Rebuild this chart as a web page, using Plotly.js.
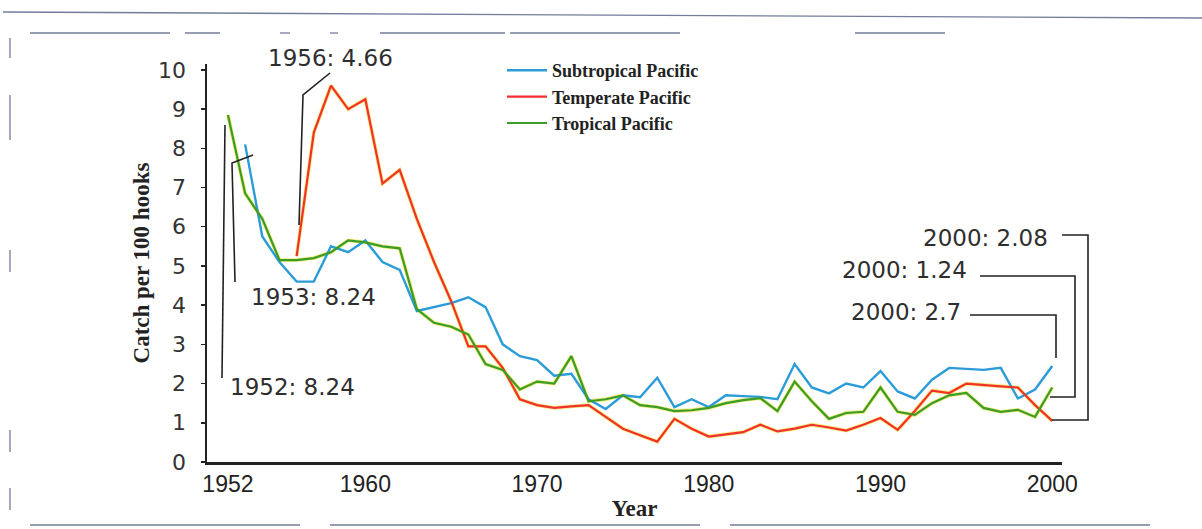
<!DOCTYPE html>
<html>
<head>
<meta charset="utf-8">
<script src="https://cdn.plot.ly/plotly-3.0.1.min.js"></script>
<style>html,body{margin:0;padding:0;background:#fff;}#chart{width:1202px;height:529px;}</style>
</head>
<body>
<div id="chart"></div>
<script>
// ---- data ----
var years = [1952,1953,1954,1955,1956,1957,1958,1959,1960,1961,1962,1963,1964,1965,1966,1967,1968,1969,1970,1971,1972,1973,1974,1975,1976,1977,1978,1979,1980,1981,1982,1983,1984,1985,1986,1987,1988,1989,1990,1991,1992,1993,1994,1995,1996,1997,1998,1999,2000];

var subtropical = [null,8.1,5.75,5.1,4.6,4.6,5.5,5.35,5.65,5.1,4.9,3.85,3.95,4.05,4.2,3.95,3.0,2.7,2.6,2.2,2.25,1.6,1.35,1.7,1.65,2.15,1.4,1.6,1.4,1.7,1.68,1.66,1.6,2.5,1.9,1.75,2.0,1.9,2.32,1.8,1.62,2.1,2.4,2.38,2.35,2.4,1.62,1.85,2.45];

var temperate = [null,null,null,null,5.25,8.4,9.6,9.0,9.25,7.1,7.45,6.2,5.1,4.1,2.95,2.95,2.4,1.6,1.45,1.38,1.42,1.45,1.15,0.85,0.68,0.52,1.1,0.85,0.65,0.7,0.76,0.95,0.78,0.85,0.95,0.88,0.8,0.95,1.12,0.82,1.3,1.82,1.76,2.0,1.96,1.93,1.9,1.45,1.05];

var tropical = [8.85,6.85,6.2,5.15,5.15,5.2,5.35,5.65,5.6,5.5,5.45,3.9,3.55,3.45,3.25,2.5,2.35,1.85,2.05,2.0,2.7,1.55,1.6,1.7,1.45,1.4,1.3,1.32,1.38,1.5,1.58,1.63,1.3,2.05,1.55,1.1,1.25,1.28,1.9,1.28,1.2,1.5,1.7,1.76,1.38,1.28,1.33,1.15,1.9];

var seriesNames = ["Subtropical Pacific","Temperate Pacific","Tropical Pacific"];
var xTickVals = [1952,1960,1970,1980,1990,2000];
var yTickVals = [0,1,2,3,4,5,6,7,8,9,10];
var calloutTexts = ["1956: 4.66","1953: 8.24","1952: 8.24","2000: 2.08","2000: 1.24","2000: 2.7"];

// ---- styles ----
var BLUE = "#2b9cd8", RED = "#f2302f", GREEN = "#3c9c2a", HALO = "rgba(236,226,60,0.7)";

var traces = [
  {x: years, y: temperate, type: "scatter", mode: "lines", line: {color: HALO, width: 3.8}, showlegend: false, hoverinfo: "skip"},
  {x: years, y: tropical, type: "scatter", mode: "lines", line: {color: HALO, width: 3.8}, showlegend: false, hoverinfo: "skip"},
  {x: years, y: subtropical, name: seriesNames[0], type: "scatter", mode: "lines", line: {color: BLUE, width: 2.4}},
  {x: years, y: temperate, name: seriesNames[1], type: "scatter", mode: "lines", line: {color: RED, width: 2.2}},
  {x: years, y: tropical, name: seriesNames[2], type: "scatter", mode: "lines", line: {color: GREEN, width: 2.2}}
];

var W = 1202, H = 529, L = 207, R = 140, T = 64, B = 67;
var pw = W - L - R, ph = H - T - B;
function px(x){ return (x - L) / pw; }
function py(y){ return (H - B - y) / ph; }
function pathOf(pts){ return pts.map(function(p,i){ return (i ? "L" : "M") + px(p[0]) + "," + py(p[1]); }).join(" "); }

var leaderStyle = {color: "#222", width: 1.6};
var leaders = [
  [[225,125],[222,378]],
  [[235,282],[232,163],[253,155]],
  [[299,225],[303,95],[330,73]],
  [[1062,235],[1088,235],[1088,420],[1052,420]],
  [[980,276],[1075,276],[1075,397],[1050,397]],
  [[970,315],[1056,315],[1056,358]]
];
var shapes = leaders.map(function(pts){
  return {type: "path", xref: "paper", yref: "paper", path: pathOf(pts), line: leaderStyle};
});

// scanned page frame marks
var frameStyle = {color: "rgba(70,80,120,0.75)", width: 1.3};
var framePaths = [
  [[3,12],[1202,18]],
  [[30,33],[170,33]], [[185,33],[220,33]], [[280,33],[290,33]], [[330,33],[338,33]],
  [[380,33],[505,33]], [[510,33],[680,33]], [[855,33],[945,33]],
  [[10,38],[10,58]], [[10,95],[10,140]], [[10,250],[10,272]], [[10,430],[10,452]], [[10,488],[10,510]],
  [[30,525],[300,525]], [[330,525],[700,525]], [[730,525],[1150,525]]
];
framePaths.forEach(function(pts){
  shapes.push({type: "path", xref: "paper", yref: "paper", path: pathOf(pts), line: frameStyle});
});

var calloutPos = [[330,58],[313,297],[292,387],[985,238],[904,270],[906,312]];
var annFont = {family: "DejaVu Sans, sans-serif", size: 23, color: "#2e2e2e"};
var annotations = calloutTexts.map(function(t,i){
  return {text: t, xref: "paper", yref: "paper", x: px(calloutPos[i][0]), y: py(calloutPos[i][1]),
          xanchor: "center", yanchor: "middle", showarrow: false, font: annFont};
});

var layout = {
  width: W, height: H,
  margin: {l: L, r: R, t: T, b: B},
  paper_bgcolor: "#ffffff", plot_bgcolor: "#ffffff",
  showlegend: true,
  legend: {x: px(502), y: py(52), xanchor: "left", yanchor: "top", bgcolor: "rgba(0,0,0,0)",
           font: {family: "Liberation Serif, Times New Roman, serif", size: 18, color: "#222", weight: "bold"},
           tracegroupgap: 0, itemwidth: 40},
  xaxis: {
    range: [1950.78, 2000.57], tickvals: xTickVals, ticktext: xTickVals.map(String),
    showgrid: false, zeroline: false, showline: true, linecolor: "#222", linewidth: 2.5,
    ticks: "", tickfont: {family: "Liberation Sans, Arial, sans-serif", size: 23, color: "#222"},
    title: {text: "Year", font: {family: "Liberation Serif, Times New Roman, serif", size: 23, color: "#222", weight: "bold"}, standoff: 4}
  },
  yaxis: {
    range: [0, 10.15], tickvals: yTickVals,
    showgrid: false, zeroline: false, showline: true, linecolor: "#222", linewidth: 2.5,
    ticks: "outside", ticklen: 4, tickwidth: 1.5, tickcolor: "#222", ticklabelstandoff: 10,
    tickfont: {family: "DejaVu Sans, sans-serif", size: 22, color: "#333"},
    title: {text: "Catch per 100 hooks", font: {family: "Liberation Serif, Times New Roman, serif", size: 23, color: "#222", weight: "bold"}, standoff: 2}
  },
  shapes: shapes,
  annotations: annotations
};

Plotly.newPlot("chart", traces, layout, {displayModeBar: false, staticPlot: true});
</script>
</body>
</html>
